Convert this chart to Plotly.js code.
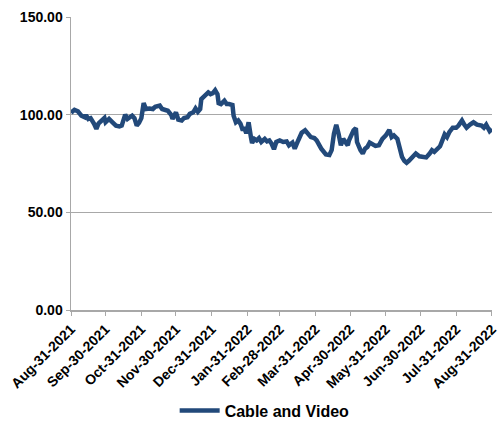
<!DOCTYPE html>
<html>
<head>
<meta charset="utf-8">
<script src="https://cdn.plot.ly/plotly-3.0.1.min.js"></script>
<style>
  html, body { margin: 0; padding: 0; background: #ffffff; }
  #chart { width: 498px; height: 433px; }
</style>
</head>
<body>
<div id="chart"></div>
<script>
// Cable and Video index level, Aug 2021 – Aug 2022
const seriesName = "Cable and Video";

const dates = [
  "2021-08-31","2021-09-03","2021-09-06","2021-09-09","2021-09-12","2021-09-13","2021-09-15","2021-09-17",
  "2021-09-20","2021-09-22","2021-09-24","2021-09-26","2021-09-29","2021-09-30","2021-10-03","2021-10-06",
  "2021-10-09","2021-10-12","2021-10-14","2021-10-17","2021-10-19","2021-10-21","2021-10-23","2021-10-25",
  "2021-10-27","2021-10-29","2021-10-31","2021-11-02","2021-11-04","2021-11-07","2021-11-10","2021-11-12",
  "2021-11-16","2021-11-18","2021-11-23","2021-11-26","2021-11-27","2021-11-30","2021-12-02","2021-12-05",
  "2021-12-07","2021-12-10","2021-12-12","2021-12-15","2021-12-17","2021-12-19","2021-12-21","2021-12-22",
  "2021-12-25","2021-12-28","2021-12-30","2022-01-01","2022-01-03","2022-01-05","2022-01-06","2022-01-08",
  "2022-01-11","2022-01-13","2022-01-15","2022-01-18","2022-01-19","2022-01-21","2022-01-23","2022-01-25",
  "2022-01-27","2022-01-28","2022-01-30","2022-02-01","2022-02-03","2022-02-04","2022-02-06","2022-02-08",
  "2022-02-10","2022-02-12","2022-02-15","2022-02-17","2022-02-19","2022-02-21","2022-02-23","2022-02-25",
  "2022-02-28","2022-03-03","2022-03-06","2022-03-08","2022-03-11","2022-03-13","2022-03-16","2022-03-19",
  "2022-03-22","2022-03-25","2022-03-27","2022-03-30","2022-04-01","2022-04-05","2022-04-09","2022-04-12",
  "2022-04-14","2022-04-16","2022-04-18","2022-04-20","2022-04-22","2022-04-24","2022-04-26","2022-04-28",
  "2022-04-29","2022-05-03","2022-05-05","2022-05-06","2022-05-09","2022-05-11","2022-05-13","2022-05-15",
  "2022-05-17","2022-05-20","2022-05-22","2022-05-25","2022-05-28","2022-05-31","2022-06-03","2022-06-05",
  "2022-06-07","2022-06-10","2022-06-12","2022-06-14","2022-06-16","2022-06-18","2022-06-20","2022-06-23",
  "2022-06-26","2022-06-29","2022-07-02","2022-07-05","2022-07-08","2022-07-10","2022-07-12","2022-07-15",
  "2022-07-17","2022-07-19","2022-07-21","2022-07-23","2022-07-25","2022-07-28","2022-07-31","2022-08-02",
  "2022-08-05","2022-08-07","2022-08-09","2022-08-12","2022-08-15","2022-08-18","2022-08-22","2022-08-24",
  "2022-08-26","2022-08-29","2022-08-31"
];

const values = [
  101.0,102.5,101.7,99.5,98.7,99.8,97.8,98.2,
  95.3,92.7,95.6,97.0,98.3,96.1,97.8,96.1,
  94.4,94.0,94.4,100.0,97.8,98.7,99.5,98.2,
  94.4,95.8,98.2,105.9,102.9,103.2,102.9,104.0,
  104.6,102.9,102.0,99.8,97.8,101.2,97.5,97.0,
  98.3,98.7,100.4,101.2,103.2,101.5,102.9,108.0,
  109.6,111.4,110.5,111.0,112.5,110.5,105.9,105.4,
  107.1,105.4,105.4,104.9,99.5,96.1,97.0,95.3,
  91.9,93.6,90.5,96.1,88.5,85.5,87.6,86.8,
  88.0,86.0,87.6,86.3,86.8,85.1,82.3,86.0,
  86.8,86.0,86.3,84.3,85.7,82.6,86.8,90.7,
  92.0,89.4,88.5,88.0,86.8,82.6,79.6,79.3,
  81.8,90.2,94.8,90.2,84.3,87.6,86.0,84.3,
  86.8,92.0,93.1,86.0,81.8,80.1,82.6,83.5,
  85.7,84.6,84.0,84.3,87.6,89.4,92.2,88.5,
  89.4,87.6,81.8,78.4,76.4,75.4,76.4,78.7,
  80.1,78.7,78.4,78.1,80.1,81.8,81.0,83.0,
  83.8,86.8,89.9,88.5,91.0,93.3,93.3,94.4,
  97.0,94.9,93.3,94.9,96.1,94.9,94.4,93.3,
  94.9,91.6,92.7
];

// Month-end tick positions and their labels
const tickDates = [
  "2021-08-31","2021-09-30","2021-10-31","2021-11-30","2021-12-31","2022-01-31","2022-02-28",
  "2022-03-31","2022-04-30","2022-05-31","2022-06-30","2022-07-31","2022-08-31"
];
const tickLabels = [
  "Aug-31-2021","Sep-30-2021","Oct-31-2021","Nov-30-2021","Dec-31-2021","Jan-31-2022","Feb-28-2022",
  "Mar-31-2022","Apr-30-2022","May-31-2022","Jun-30-2022","Jul-31-2022","Aug-31-2022"
];

const yTicks = [0, 50, 100, 150];

const lineColor = "#22497a";
const gridColor = "#a8a8a8";
const fontFamily = "Arial, 'Liberation Sans', sans-serif";

const trace = {
  type: "scatter",
  mode: "lines",
  name: seriesName,
  x: dates,
  y: values,
  line: { color: lineColor, width: 4.5 },
  hoverinfo: "skip"
};

const layout = {
  width: 498,
  height: 433,
  margin: { l: 71, r: 6, t: 17, b: 120 },
  paper_bgcolor: "#ffffff",
  plot_bgcolor: "#ffffff",
  font: { family: fontFamily, color: "#000000" },
  showlegend: true,
  legend: {
    orientation: "h",
    x: 0.46,
    xanchor: "center",
    y: -0.343,
    yanchor: "middle",
    font: { family: fontFamily, size: 16, weight: "bold", color: "#000000" },
    itemwidth: 40
  },
  xaxis: {
    type: "date",
    // end an hour past the last month-end so its tick stays inside the range
    range: [tickDates[0], tickDates[tickDates.length - 1] + " 01:00"],
    tickmode: "array",
    tickvals: tickDates,
    ticktext: tickLabels,
    tickangle: -45,
    ticklabeloverflow: "allow",
    tickfont: { family: fontFamily, size: 14, weight: "bold", color: "#000000" },
    ticks: "outside",
    ticklen: 4,
    tickcolor: gridColor,
    showline: true,
    linecolor: gridColor,
    linewidth: 1.5,
    showgrid: false,
    zeroline: false,
    fixedrange: true
  },
  yaxis: {
    range: [0, 150],
    tickmode: "array",
    tickvals: yTicks,
    tickformat: ".2f",
    tickfont: { family: fontFamily, size: 14, weight: "bold", color: "#000000" },
    ticks: "outside",
    ticklen: 4,
    tickcolor: gridColor,
    showline: true,
    linecolor: gridColor,
    linewidth: 1.5,
    showgrid: true,
    gridcolor: gridColor,
    gridwidth: 1.5,
    zeroline: false,
    fixedrange: true
  }
};

Plotly.newPlot("chart", [trace], layout, { displayModeBar: false, staticPlot: true });
</script>
</body>
</html>
